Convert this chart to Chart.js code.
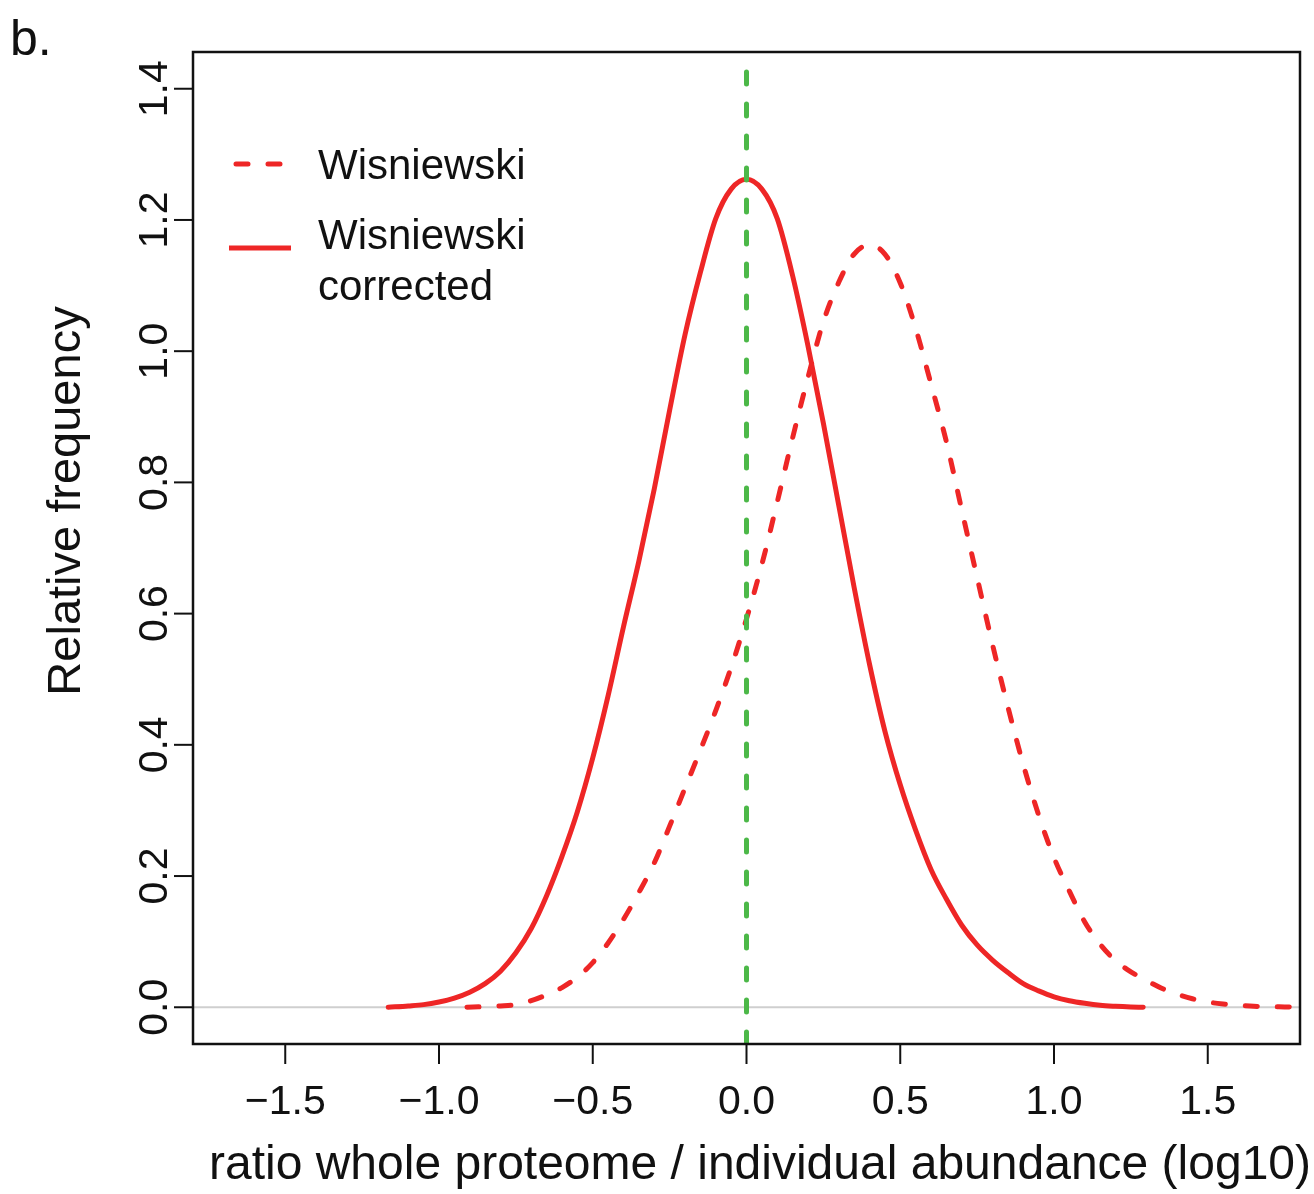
<!DOCTYPE html>
<html>
<head>
<meta charset="utf-8">
<title>Wisniewski density</title>
<script src="https://cdn.jsdelivr.net/npm/chart.js@4.4.1/dist/chart.umd.min.js"></script>
<style>
  html, body { margin: 0; padding: 0; background: #fff; }
  canvas { display: block; }
</style>
</head>
<body>
<canvas id="densityChart" width="1314" height="1194"></canvas>
<script>
// axis ticks
const xTicks = [-1.5, -1.0, -0.5, 0.0, 0.5, 1.0, 1.5];
const yTicks = [0.0, 0.2, 0.4, 0.6, 0.8, 1.0, 1.2, 1.4];

// "Wisniewski corrected" density (solid)
const correctedX = [-1.165, -1.1, -1.05, -1.0, -0.95, -0.9, -0.85, -0.8, -0.75, -0.7, -0.65, -0.6, -0.55,
    -0.5, -0.45, -0.4, -0.35, -0.3, -0.25, -0.2, -0.15, -0.1, -0.05, 0.0, 0.05, 0.1, 0.15, 0.2, 0.25,
    0.3, 0.35, 0.4, 0.45, 0.5, 0.55, 0.6, 0.65, 0.7, 0.75, 0.8, 0.85, 0.9, 0.95, 1.0, 1.05, 1.1, 1.15,
    1.2, 1.25, 1.29];
const correctedY = [0.0, 0.002, 0.004, 0.008, 0.014, 0.023, 0.036, 0.055, 0.083, 0.12, 0.17, 0.23, 0.298,
    0.38, 0.475, 0.58, 0.68, 0.79, 0.91, 1.025, 1.12, 1.202, 1.247, 1.262, 1.247, 1.202, 1.115, 1.008, 0.89,
    0.765, 0.64, 0.523, 0.421, 0.339, 0.27, 0.21, 0.165, 0.125, 0.095, 0.072, 0.053, 0.036, 0.025, 0.016,
    0.01, 0.006, 0.003, 0.0015, 0.0005, 0.0];

// "Wisniewski" density (dashed)
const rawX = [-0.909, -0.85, -0.8, -0.75, -0.7, -0.65, -0.6, -0.55, -0.5, -0.45, -0.4, -0.35, -0.3, -0.25,
    -0.2, -0.15, -0.1, -0.05, 0.0, 0.05, 0.1, 0.15, 0.2, 0.25, 0.3, 0.35, 0.4, 0.45, 0.5, 0.55, 0.6, 0.65,
    0.7, 0.75, 0.8, 0.85, 0.9, 0.95, 1.0, 1.05, 1.1, 1.15, 1.2, 1.25, 1.3, 1.35, 1.4, 1.45, 1.5, 1.55,
    1.6, 1.65, 1.7, 1.75, 1.8, 1.9];
const rawY = [0.0, 0.001, 0.002, 0.004, 0.01, 0.019, 0.03, 0.046, 0.068, 0.098, 0.134, 0.175, 0.22, 0.276,
    0.334, 0.392, 0.452, 0.518, 0.592, 0.675, 0.77, 0.868, 0.96, 1.045, 1.105, 1.148, 1.162, 1.148, 1.104,
    1.035, 0.95, 0.862, 0.758, 0.655, 0.553, 0.458, 0.37, 0.293, 0.228, 0.177, 0.13, 0.096, 0.071, 0.054,
    0.041, 0.029, 0.02, 0.013, 0.008, 0.005, 0.003, 0.0015, 0.001, 0.0005, 0.0002, 0.0];

const xRange = [-1.8, 1.8];
const yRange = [-0.056, 1.456];

const RED = '#ee2626';
const GREEN = '#4cb848';
const FONT = '"Liberation Sans", Arial, Helvetica, sans-serif';

const toPoints = (xs, ys) => xs.map((x, i) => ({ x: x, y: ys[i] }));
const fmt = v => v.toFixed(1).replace('-', '\u2212');

// R-style box, ticks, labels and legend
const baseAxes = {
    id: 'baseAxes',
    afterDatasetsDraw(chart) {
        const ctx = chart.ctx;
        const a = chart.chartArea;
        const xs = chart.scales.x;
        const ys = chart.scales.y;
        ctx.save();
        ctx.strokeStyle = '#111';
        ctx.fillStyle = '#111';
        ctx.lineWidth = 2.5;
        ctx.strokeRect(a.left, a.top, a.right - a.left, a.bottom - a.top);

        // x axis
        ctx.lineWidth = 2;
        ctx.font = '41px ' + FONT;
        ctx.textAlign = 'center';
        ctx.textBaseline = 'alphabetic';
        xTicks.forEach(v => {
            const px = xs.getPixelForValue(v);
            ctx.beginPath();
            ctx.moveTo(px, a.bottom);
            ctx.lineTo(px, a.bottom + 20);
            ctx.stroke();
            ctx.fillText(fmt(v), px, 1114);
        });
        ctx.font = '48px ' + FONT;
        ctx.fillText('ratio whole proteome / individual abundance (log10)', 760, 1179);

        // y axis, labels parallel to the axis
        yTicks.forEach(v => {
            const py = ys.getPixelForValue(v);
            ctx.beginPath();
            ctx.moveTo(a.left, py);
            ctx.lineTo(a.left - 19, py);
            ctx.stroke();
            ctx.save();
            ctx.translate(167, py);
            ctx.rotate(-Math.PI / 2);
            ctx.font = '41px ' + FONT;
            ctx.fillText(fmt(v), 0, 0);
            ctx.restore();
        });
        ctx.save();
        ctx.translate(80, 501);
        ctx.rotate(-Math.PI / 2);
        ctx.font = '47px ' + FONT;
        ctx.fillText('Relative frequency', 0, 0);
        ctx.restore();

        // panel letter
        ctx.textAlign = 'left';
        ctx.font = '50px ' + FONT;
        ctx.fillText('b.', 10, 55);

        // legend
        ctx.strokeStyle = RED;
        ctx.lineWidth = 5;
        ctx.lineCap = 'round';
        ctx.setLineDash([12, 20]);
        ctx.beginPath();
        ctx.moveTo(236, 164);
        ctx.lineTo(282, 164);
        ctx.stroke();
        ctx.setLineDash([]);
        ctx.lineCap = 'butt';
        ctx.beginPath();
        ctx.moveTo(229, 248);
        ctx.lineTo(291, 248);
        ctx.stroke();
        ctx.font = '42px ' + FONT;
        ctx.fillText('Wisniewski', 318, 179);
        ctx.fillText('Wisniewski', 318, 249);
        ctx.fillText('corrected', 318, 300);
        ctx.restore();
    }
};

new Chart(document.getElementById('densityChart'), {
    type: 'line',
    data: {
        datasets: [
            {
                // abline(v = 0), first so it sits on top
                data: toPoints([0, 0], [yRange[0], yRange[1]]),
                borderColor: GREEN,
                borderWidth: 5,
                borderDash: [12, 20],
                borderCapStyle: 'round',
                tension: 0
            },
            {
                data: toPoints(rawX, rawY),
                borderColor: RED,
                borderWidth: 5,
                borderDash: [12, 20],
                borderCapStyle: 'round',
                cubicInterpolationMode: 'monotone'
            },
            {
                data: toPoints(correctedX, correctedY),
                borderColor: RED,
                borderWidth: 5,
                borderCapStyle: 'round',
                cubicInterpolationMode: 'monotone'
            },
            {
                // zero line
                data: toPoints(xRange, [0, 0]),
                borderColor: '#cfcfcf',
                borderWidth: 2,
                tension: 0
            }
        ]
    },
    options: {
        responsive: false,
        animation: false,
        devicePixelRatio: 1,
        layout: { padding: { left: 193, right: 14, top: 52, bottom: 150 } },
        elements: { point: { radius: 0, hoverRadius: 0 } },
        plugins: { legend: { display: false }, tooltip: { enabled: false } },
        events: [],
        scales: {
            x: { type: 'linear', min: xRange[0], max: xRange[1], display: false },
            y: { type: 'linear', min: yRange[0], max: yRange[1], display: false }
        }
    },
    plugins: [baseAxes]
});
</script>
</body>
</html>
